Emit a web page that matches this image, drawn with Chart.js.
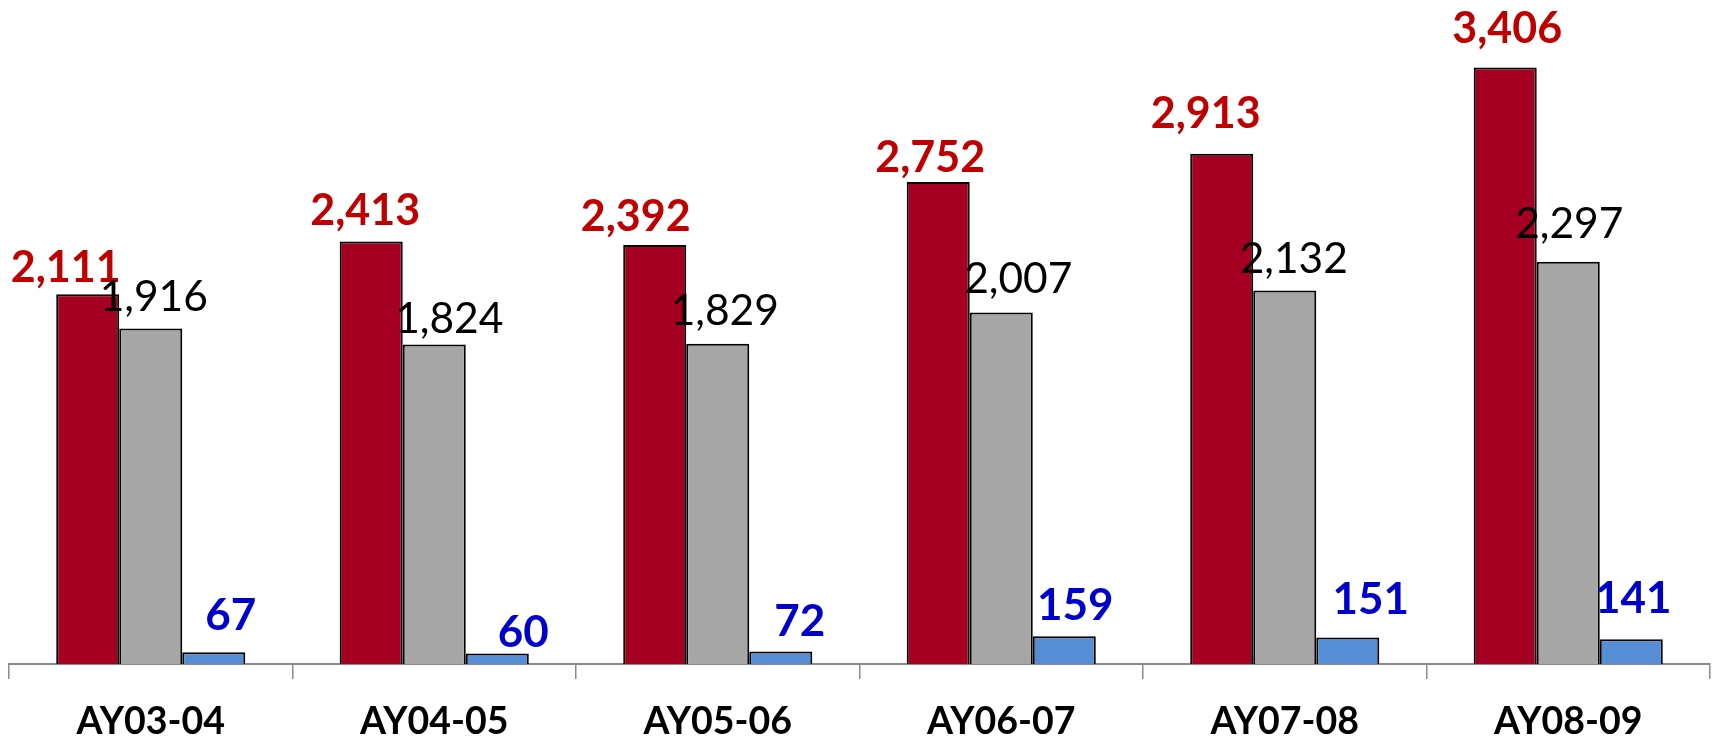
<!DOCTYPE html>
<html>
<head>
<meta charset="utf-8">
<script src="https://cdn.jsdelivr.net/npm/chart.js@4/dist/chart.umd.min.js"></script>
<style>
  html, body { margin: 0; padding: 0; background: #fff; }
  #wrap { width: 1715px; height: 737px; position: relative; }
</style>
</head>
<body>
<div id="wrap"><canvas id="barChart"></canvas></div>
<script>
// values
const years = ["AY03-04", "AY04-05", "AY05-06", "AY06-07", "AY07-08", "AY08-09"];
const redValues = [2111, 2413, 2392, 2752, 2913, 3406];
const grayValues = [1916, 1824, 1829, 2007, 2132, 2297];
const blueValues = [67, 60, 72, 159, 151, 141];

// hand placed label nudges (px), as in the original
const redShiftX = [-22, -6, -19, -8, -16, 2];
const redGap = [12, 16, 14, 10, 26, 24];
const grayShiftX = [3, 15, 7, 17, 9, 1];
const grayGap = [17, 12, 19, 19, 18, 24];
const blueShiftX = [17, 26, 19, 11, 23, 2];
const blueGap = [22, 6, 15, 16, 24, 26];

const fontFamily = "Lato, 'Open Sans', sans-serif";

const barLabels = {
  id: "barLabels",
  afterDatasetsDraw(chart) {
    const ctx = chart.ctx;
    chart.data.datasets.forEach((ds, i) => {
      const meta = chart.getDatasetMeta(i);
      meta.data.forEach((bar, j) => {
        ctx.save();
        ctx.font = ds.labelFont;
        ctx.fillStyle = ds.labelColor;
        ctx.textAlign = "center";
        ctx.textBaseline = "alphabetic";
        ctx.fillText(ds.data[j].toLocaleString("en-US"), bar.x + ds.shiftX[j], bar.y - ds.gap[j]);
        ctx.restore();
      });
    });
  },
};

const data = {
  labels: years,
  datasets: [
    {
      data: redValues,
      backgroundColor: "#A50021",
      borderColor: "#000",
      borderWidth: 2,
      labelColor: "#C00000",
      labelFont: "bold 43px " + fontFamily,
      shiftX: redShiftX,
      gap: redGap,
    },
    {
      data: grayValues,
      backgroundColor: "#A6A6A6",
      borderColor: "#000",
      borderWidth: 2,
      labelColor: "#000",
      labelFont: "42.5px " + fontFamily,
      shiftX: grayShiftX,
      gap: grayGap,
    },
    {
      data: blueValues,
      backgroundColor: "#558ED5",
      borderColor: "#000",
      borderWidth: 2,
      labelColor: "#0000CC",
      labelFont: "bold 44px " + fontFamily,
      shiftX: blueShiftX,
      gap: blueGap,
    },
  ],
};

const config = {
  type: "bar",
  data: data,
  plugins: [barLabels],
  options: {
    responsive: true,
    maintainAspectRatio: false,
    animation: false,
    categoryPercentage: 0.667,
    barPercentage: 1,
    layout: { padding: { top: 51, left: 9, right: 5, bottom: 0 } },
    plugins: { legend: { display: false }, tooltip: { enabled: false } },
    scales: {
      x: {
        grid: {
          offset: true,
          drawOnChartArea: false,
          drawTicks: true,
          tickLength: 15,
          color: "#8a8a8a",
          lineWidth: 1.5,
        },
        border: { color: "#8a8a8a", width: 2 },
        ticks: {
          color: "#000",
          padding: 20,
          font: { family: fontFamily, size: 37.5, weight: "bold" },
        },
        afterFit(scale) {
          scale.height = 73;
        },
      },
      y: {
        display: false,
        min: 0,
        max: 3500,
      },
    },
  },
};

var ctx = document.getElementById("barChart").getContext("2d");
var chart = new Chart(ctx, config);
</script>
</body>
</html>
